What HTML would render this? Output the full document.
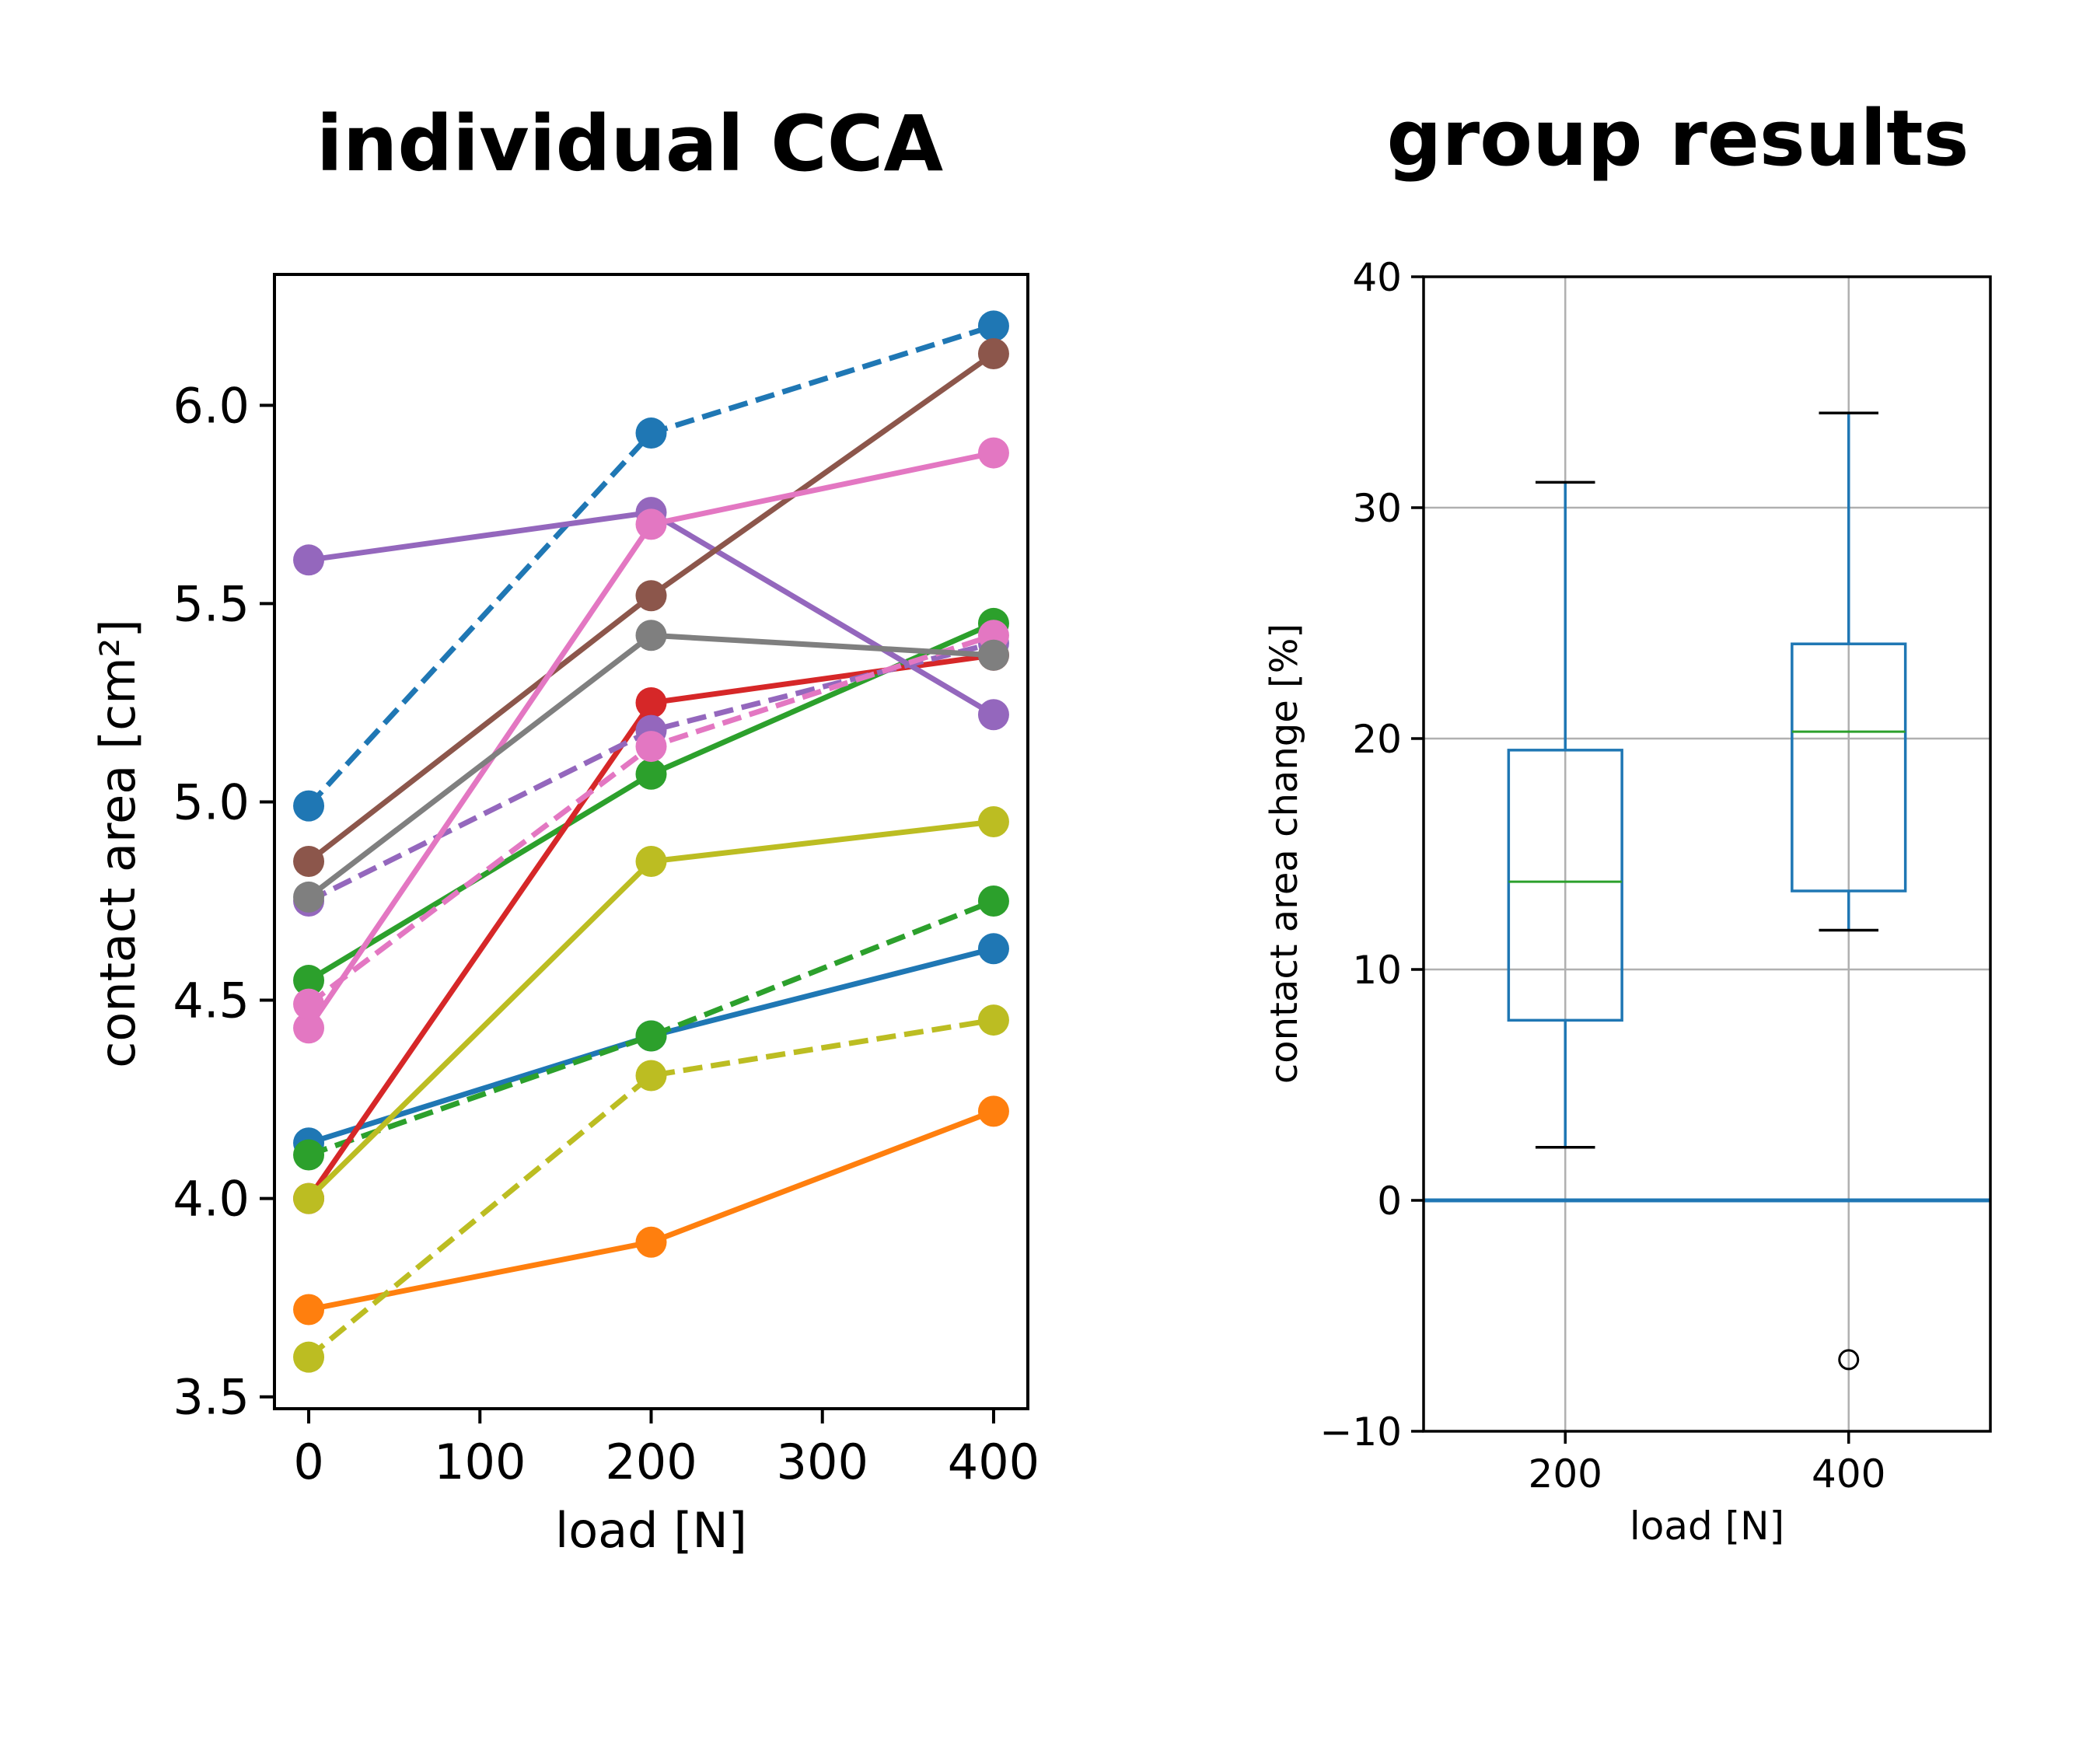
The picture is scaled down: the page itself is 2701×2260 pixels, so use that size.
<!DOCTYPE html>
<html><head><meta charset="utf-8"><style>
html,body{margin:0;padding:0;background:#fff;}
svg text{font-family:"DejaVu Sans","Liberation Sans",sans-serif;fill:#000;}
</style></head><body>
<svg id="fig" width="2701" height="2255" viewBox="0 0 2701 2255" xmlns="http://www.w3.org/2000/svg">
<rect width="2701" height="2255" fill="#fff"/>
<text x="810" y="219" font-size="99" font-weight="bold" text-anchor="middle">individual CCA</text>
<text x="2158" y="212" font-size="99" font-weight="bold" text-anchor="middle">group results</text>
<g id="left"></g>
<g id="right"></g>
</svg>
<script>
const loads = [0, 200, 400];
const seriesColors = ['#1f77b4','#1f77b4','#ff7f0e','#2ca02c','#2ca02c','#d62728','#9467bd','#9467bd','#8c564b','#e377c2','#e377c2','#7f7f7f','#bcbd22','#bcbd22'];
const seriesDashed = [true,false,false,false,true,false,false,true,false,false,true,false,false,true];
const s1 = [4.99, 5.93, 6.20];
const s2 = [4.14, 4.41, 4.63];
const s3 = [3.72, 3.89, 4.22];
const s4 = [4.55, 5.07, 5.45];
const s5 = [4.11, 4.41, 4.75];
const s6 = [4.00, 5.25, 5.37];
const s7 = [5.61, 5.73, 5.22];
const s8 = [4.75, 5.18, 5.40];
const s9 = [4.85, 5.52, 6.13];
const s10 = [4.43, 5.70, 5.88];
const s11 = [4.49, 5.14, 5.42];
const s12 = [4.76, 5.42, 5.37];
const s13 = [4.00, 4.85, 4.95];
const s14 = [3.60, 4.31, 4.45];
const allSeries = [s1,s2,s3,s4,s5,s6,s7,s8,s9,s10,s11,s12,s13,s14];
const leftXTicks = [0,100,200,300,400];
const leftYTicks = [3.5,4.0,4.5,5.0,5.5,6.0];

const boxCats = [200, 400];
const whiskLow = [2.3, 11.7];
const q1 = [7.8, 13.4];
const median = [13.8, 20.3];
const q3 = [19.5, 24.1];
const whiskHigh = [31.1, 34.1];
const outliers = [[], [-6.9]];
const rightYTicks = [-10,0,10,20,30,40];
const rightXTicks = [200,400];

const NS='http://www.w3.org/2000/svg';
function mk(parent, tag, attrs, text){const e=document.createElementNS(NS,tag);for(const k in attrs)e.setAttribute(k,attrs[k]);if(text!==undefined)e.textContent=text;parent.appendChild(e);return e;}

// LEFT
(function(){
  const g=document.getElementById('left');
  const L=353,R=1322,T=353,B=1812;
  const xmin=-20,xmax=420;
  let lo=Infinity,hi=-Infinity;allSeries.forEach(s=>s.forEach(v=>{lo=Math.min(lo,v);hi=Math.max(hi,v);}));
  const pad=(hi-lo)*0.05, ymin=lo-pad, ymax=hi+pad;
  const X=v=>L+(v-xmin)/(xmax-xmin)*(R-L);
  const Y=v=>B-(v-ymin)/(ymax-ymin)*(B-T);
  allSeries.forEach((s,i)=>{
    const pts=s.map((v,j)=>X(loads[j])+','+Y(v)).join(' ');
    const pl=mk(g,'polyline',{points:pts,fill:'none',stroke:seriesColors[i],'stroke-width':7,'stroke-dasharray':seriesDashed[i]?'25 11':'none'});
    
    
    s.forEach((v,j)=>{
      const c=mk(g,'circle',{cx:X(loads[j]),cy:Y(v),r:20,fill:seriesColors[i]});
      
      
    });
  });
  const fr=mk(g,'rect',{x:L,y:T,width:R-L,height:B-T,fill:'none',stroke:'#000','stroke-width':4});
  
  
  leftXTicks.forEach(t=>{
    mk(g,'line',{x1:X(t),x2:X(t),y1:B,y2:B+19,stroke:'#000','stroke-width':4});
    const tx=mk(g,'text',{x:X(t),y:B+90,'font-size':62,'text-anchor':'middle'},String(t));
    
    
  });
  leftYTicks.forEach(t=>{
    mk(g,'line',{x1:L-19,x2:L,y1:Y(t),y2:Y(t),stroke:'#000','stroke-width':4});
    const tx=mk(g,'text',{x:L-32,y:Y(t)+22,'font-size':62,'text-anchor':'end'},t.toFixed(1));
    
    
  });
  const xl=mk(g,'text',{x:(L+R)/2,y:1990,'font-size':62,'text-anchor':'middle'},'load [N]');
  
  
  const yl=mk(g,'text',{x:0,y:0,'font-size':62,'text-anchor':'middle',transform:'translate(173,1085) rotate(-90)'},'contact area [cm²]');
  
  
})();

// RIGHT
(function(){
  const g=document.getElementById('right');
  const L=1831,R=2560,T=356,B=1841;
  const xmin=100,xmax=500,ymin=-10,ymax=40;
  const X=v=>L+(v-xmin)/(xmax-xmin)*(R-L);
  const Y=v=>B-(v-ymin)/(ymax-ymin)*(B-T);
  rightYTicks.forEach(t=>mk(g,'line',{x1:L,x2:R,y1:Y(t),y2:Y(t),stroke:'#b0b0b0','stroke-width':2.5}));
  rightXTicks.forEach(t=>mk(g,'line',{x1:X(t),x2:X(t),y1:T,y2:B,stroke:'#b0b0b0','stroke-width':2.5}));
  const zl=mk(g,'line',{x1:L,x2:R,y1:Y(0),y2:Y(0),stroke:'#1f77b4','stroke-width':5});
  
  
  boxCats.forEach((c,i)=>{
    const bx=mk(g,'rect',{x:X(c-40),y:Y(q3[i]),width:X(c+40)-X(c-40),height:Y(q1[i])-Y(q3[i]),fill:'none',stroke:'#1f77b4','stroke-width':3.5});
    
    
    mk(g,'line',{x1:X(c),x2:X(c),y1:Y(q3[i]),y2:Y(whiskHigh[i]),stroke:'#1f77b4','stroke-width':3.5});
    mk(g,'line',{x1:X(c),x2:X(c),y1:Y(q1[i]),y2:Y(whiskLow[i]),stroke:'#1f77b4','stroke-width':3.5});
    mk(g,'line',{x1:X(c-21),x2:X(c+21),y1:Y(whiskHigh[i]),y2:Y(whiskHigh[i]),stroke:'#000','stroke-width':3.5});
    mk(g,'line',{x1:X(c-21),x2:X(c+21),y1:Y(whiskLow[i]),y2:Y(whiskLow[i]),stroke:'#000','stroke-width':3.5});
    const md=mk(g,'line',{x1:X(c-40),x2:X(c+40),y1:Y(median[i]),y2:Y(median[i]),stroke:'#2ca02c','stroke-width':3});
    
    
    outliers[i].forEach(o=>{
      const oc=mk(g,'circle',{cx:X(c),cy:Y(o),r:12,fill:'none',stroke:'#000','stroke-width':3});
      
      
    });
  });
  const fr=mk(g,'rect',{x:L,y:T,width:R-L,height:B-T,fill:'none',stroke:'#000','stroke-width':3.5});
  
  
  rightXTicks.forEach(t=>{
    mk(g,'line',{x1:X(t),x2:X(t),y1:B,y2:B+16,stroke:'#000','stroke-width':3.5});
    const tx=mk(g,'text',{x:X(t),y:B+72,'font-size':50,'text-anchor':'middle'},String(t));
    
    
  });
  rightYTicks.forEach(t=>{
    mk(g,'line',{x1:L-16,x2:L,y1:Y(t),y2:Y(t),stroke:'#000','stroke-width':3.5});
    const tx=mk(g,'text',{x:L-28,y:Y(t)+18,'font-size':50,'text-anchor':'end'},t<0?'\u2212'+Math.abs(t):String(t));
    
    
  });
  const xl=mk(g,'text',{x:(L+R)/2,y:1980,'font-size':50,'text-anchor':'middle'},'load [N]');
  
  
  const yl=mk(g,'text',{x:0,y:0,'font-size':48,'text-anchor':'middle',transform:'translate(1668,1098) rotate(-90)'},'contact area change [%]');
  
  
})();
</script>
</body></html>
